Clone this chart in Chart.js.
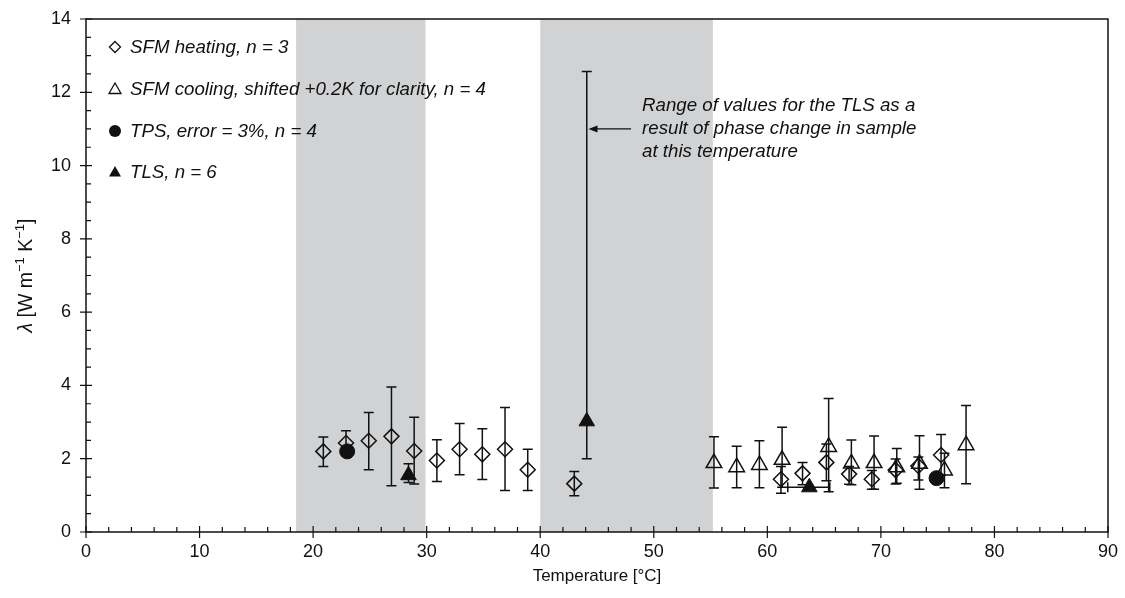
<!DOCTYPE html>
<html>
<head>
<meta charset="utf-8">
<script src="https://cdn.jsdelivr.net/npm/chart.js@4.4.1/dist/chart.umd.min.js"></script>
<style>
html, body { margin: 0; padding: 0; background: #fff; }
#wrap { width: 1125px; height: 598px; }
</style>
</head>
<body>
<div id="wrap"><canvas id="chart" width="1125" height="598"></canvas></div>
<script>
// SFM heating runs (diamonds)
const heatT  = [20.9, 22.9, 24.9, 26.9, 28.9, 30.9, 32.9, 34.9, 36.9, 38.9, 43.0, 61.2, 63.1, 65.2, 67.2, 69.2, 71.3, 73.3, 75.3];
const heatL  = [2.20, 2.43, 2.49, 2.61, 2.21, 1.95, 2.26, 2.12, 2.26, 1.70, 1.32, 1.44, 1.60, 1.90, 1.58, 1.44, 1.69, 1.80, 2.10];
const heatLo = [1.79, 2.10, 1.70, 1.26, 1.31, 1.38, 1.56, 1.43, 1.13, 1.13, 0.99, 1.06, 1.29, 1.40, 1.30, 1.17, 1.31, 1.42, 1.55];
const heatHi = [2.59, 2.76, 3.26, 3.96, 3.13, 2.52, 2.96, 2.82, 3.40, 2.26, 1.65, 1.79, 1.90, 2.40, 1.79, 1.68, 1.99, 2.05, 2.66];

// SFM cooling runs (open triangles), already shifted +0.2 K
const coolT  = [55.3, 57.3, 59.3, 61.3, 65.4, 67.4, 69.4, 71.4, 73.4, 75.6, 77.5];
const coolL  = [1.88, 1.77, 1.83, 1.97, 2.32, 1.87, 1.88, 1.77, 1.86, 1.68, 2.37];
const coolLo = [1.20, 1.21, 1.21, 1.22, 1.10, 1.29, 1.17, 1.33, 1.17, 1.21, 1.32];
const coolHi = [2.60, 2.34, 2.49, 2.86, 3.64, 2.51, 2.62, 2.28, 2.63, 2.15, 3.45];

// TPS (filled circles)
const tpsT = [23.0, 74.9];
const tpsL = [2.20, 1.47];

// TLS (filled triangles), vertical and horizontal ranges
const tlsT   = [28.4, 44.1, 63.7];
const tlsL   = [1.55, 3.02, 1.22];
const tlsLo  = [1.35, 2.00, null];
const tlsHi  = [1.86, 12.57, null];
const tlsTLo = [null, null, 61.8];
const tlsTHi = [null, null, 65.5];

// grey temperature bands
const bandFrom = [18.5, 40.0];
const bandTo   = [29.9, 55.2];

const legendItems = [
    'SFM heating, n = 3',
    'SFM cooling, shifted +0.2K for clarity, n = 4',
    'TPS, error = 3%, n = 4',
    'TLS, n = 6'
];
const noteLines = [
    'Range of values for the TLS as a',
    'result of phase change in sample',
    'at this temperature'
];
const arrowY = 11.0, arrowFrom = 48.0, arrowTo = 44.25;

const INK = '#111';
const FONT = '"Liberation Sans", Arial, sans-serif';

function pts(xs, ys) {
    return xs.map((x, i) => ({ x: x, y: ys[i] }));
}

function vbar(ctx, x, y1, y2, cap) {
    ctx.beginPath();
    ctx.moveTo(x, y1); ctx.lineTo(x, y2);
    ctx.moveTo(x - cap, y1); ctx.lineTo(x + cap, y1);
    ctx.moveTo(x - cap, y2); ctx.lineTo(x + cap, y2);
    ctx.stroke();
}

// y title pieces: text, italic, superscript
const yTitle = [
    ['λ', true, false], [' [W m', false, false], ['−1', false, true],
    [' K', false, false], ['−1', false, true], [']', false, false]
];

function drawYTitle(ctx, cx, cy) {
    const size = 19.5, supSize = 13;
    const fontOf = p => (p[1] ? 'italic ' : '') + (p[2] ? supSize : size) + 'px ' + FONT;
    let total = 0;
    const widths = yTitle.map(p => { ctx.font = fontOf(p); const w = ctx.measureText(p[0]).width; total += w; return w; });
    ctx.save();
    ctx.translate(cx, cy);
    ctx.rotate(-Math.PI / 2);
    ctx.textAlign = 'left';
    ctx.textBaseline = 'alphabetic';
    let px = -total / 2;
    yTitle.forEach((p, i) => {
        ctx.font = fontOf(p);
        ctx.fillText(p[0], px, p[2] ? -1 : 7);
        px += widths[i];
    });
    ctx.restore();
}

const extras = {
    id: 'extras',
    beforeDatasetsDraw(chart) {
        const { ctx, chartArea: a, scales: { x, y } } = chart;
        ctx.save();
        // shaded bands
        ctx.fillStyle = '#d1d2d4';
        bandFrom.forEach((f, i) => {
            const x1 = x.getPixelForValue(f), x2 = x.getPixelForValue(bandTo[i]);
            ctx.fillRect(x1, a.top, x2 - x1, a.bottom - a.top);
        });
        // error bars
        ctx.strokeStyle = INK;
        ctx.lineWidth = 1.5;
        const cap = 5;
        heatT.forEach((t, i) => vbar(ctx, x.getPixelForValue(t), y.getPixelForValue(heatLo[i]), y.getPixelForValue(heatHi[i]), cap));
        coolT.forEach((t, i) => vbar(ctx, x.getPixelForValue(t), y.getPixelForValue(coolLo[i]), y.getPixelForValue(coolHi[i]), cap));
        tlsT.forEach((t, i) => {
            const px = x.getPixelForValue(t), py = y.getPixelForValue(tlsL[i]);
            if (tlsLo[i] != null) vbar(ctx, px, y.getPixelForValue(tlsLo[i]), y.getPixelForValue(tlsHi[i]), cap);
            if (tlsTLo[i] != null) {
                const xa = x.getPixelForValue(tlsTLo[i]), xb = x.getPixelForValue(tlsTHi[i]);
                ctx.beginPath();
                ctx.moveTo(xa, py); ctx.lineTo(xb, py);
                ctx.moveTo(xa, py - cap); ctx.lineTo(xa, py + cap);
                ctx.moveTo(xb, py - cap); ctx.lineTo(xb, py + cap);
                ctx.stroke();
            }
        });
        ctx.restore();
    },
    afterDatasetsDraw(chart) {
        const { ctx, chartArea: a, scales: { x, y } } = chart;
        ctx.save();
        ctx.strokeStyle = INK;
        ctx.fillStyle = INK;

        // frame
        ctx.lineWidth = 1.5;
        ctx.strokeRect(a.left, a.top, a.right - a.left, a.bottom - a.top);

        // ticks
        ctx.lineWidth = 1.2;
        ctx.beginPath();
        for (let v = 0; v <= 90; v += 2) {
            const px = x.getPixelForValue(v);
            if (v % 10 === 0) { ctx.moveTo(px, a.bottom - 6); ctx.lineTo(px, a.bottom + 6); }
            else { ctx.moveTo(px, a.bottom - 5); ctx.lineTo(px, a.bottom); }
        }
        for (let v = 0; v <= 14; v += 0.5) {
            const py = y.getPixelForValue(v);
            if (v % 2 === 0) { ctx.moveTo(a.left - 6, py); ctx.lineTo(a.left + 6, py); }
            else { ctx.moveTo(a.left, py); ctx.lineTo(a.left + 5, py); }
        }
        ctx.stroke();

        // axis titles
        ctx.textBaseline = 'middle';
        ctx.textAlign = 'center';
        ctx.font = '17px ' + FONT;
        ctx.fillText('Temperature [°C]', (a.left + a.right) / 2, 576);
        drawYTitle(ctx, 25, (a.top + a.bottom) / 2);

        // legend
        const lx = 115, ly = [47, 89, 131, 172];
        ctx.lineWidth = 1.3;
        ctx.font = 'italic 18.7px ' + FONT;
        ctx.textAlign = 'left';
        ctx.textBaseline = 'middle';
        legendItems.forEach((txt, i) => {
            const cy = ly[i];
            ctx.beginPath();
            if (i === 0) {
                ctx.moveTo(lx - 5.5, cy); ctx.lineTo(lx, cy - 5.5); ctx.lineTo(lx + 5.5, cy); ctx.lineTo(lx, cy + 5.5); ctx.closePath();
                ctx.stroke();
            } else if (i === 1 || i === 3) {
                ctx.moveTo(lx, cy - 6); ctx.lineTo(lx + 6, cy + 4.5); ctx.lineTo(lx - 6, cy + 4.5); ctx.closePath();
                if (i === 1) ctx.stroke(); else ctx.fill();
            } else {
                ctx.arc(lx, cy, 6, 0, Math.PI * 2);
                ctx.fill();
            }
            ctx.fillText(txt, 130, cy + 1);
        });

        // annotation arrow and note
        const ay = y.getPixelForValue(arrowY);
        const ax1 = x.getPixelForValue(arrowFrom), ax2 = x.getPixelForValue(arrowTo);
        ctx.lineWidth = 1.3;
        ctx.beginPath();
        ctx.moveTo(ax1, ay); ctx.lineTo(ax2 + 6, ay);
        ctx.stroke();
        ctx.beginPath();
        ctx.moveTo(ax2, ay); ctx.lineTo(ax2 + 9, ay - 3.5); ctx.lineTo(ax2 + 9, ay + 3.5); ctx.closePath();
        ctx.fill();
        ctx.font = 'italic 18.7px ' + FONT;
        noteLines.forEach((t, i) => ctx.fillText(t, ax1 + 11, ay + (i - 1) * 23));

        ctx.restore();
    }
};

new Chart(document.getElementById('chart'), {
    type: 'scatter',
    data: {
        datasets: [
            {
                label: 'TLS', data: pts(tlsT, tlsL), order: 1,
                pointStyle: 'triangle', pointRadius: 9, pointBackgroundColor: INK,
                pointBorderColor: INK, pointBorderWidth: 1
            },
            {
                label: 'TPS', data: pts(tpsT, tpsL), order: 2,
                pointStyle: 'circle', pointRadius: 7.5, pointBackgroundColor: INK,
                pointBorderColor: INK, pointBorderWidth: 1
            },
            {
                label: 'SFM cooling', data: pts(coolT, coolL), order: 3,
                pointStyle: 'triangle', pointRadius: 9, pointBackgroundColor: 'rgba(0,0,0,0)',
                pointBorderColor: INK, pointBorderWidth: 1.5
            },
            {
                label: 'SFM heating', data: pts(heatT, heatL), order: 4,
                pointStyle: 'rectRot', pointRadius: 7.5, pointBackgroundColor: 'rgba(0,0,0,0)',
                pointBorderColor: INK, pointBorderWidth: 1.5
            }
        ]
    },
    options: {
        responsive: false,
        animation: false,
        events: [],
        layout: { padding: { top: 19, right: 17, left: 0, bottom: 0 } },
        plugins: { legend: { display: false }, tooltip: { enabled: false } },
        scales: {
            x: {
                type: 'linear', min: 0, max: 90,
                grid: { display: false, drawTicks: false },
                border: { display: false },
                ticks: { stepSize: 10, padding: 9, color: INK, font: { family: FONT, size: 18 }, maxRotation: 0 },
                afterFit: s => { s.height = 66; s.paddingLeft = 0; s.paddingRight = 0; }
            },
            y: {
                type: 'linear', min: 0, max: 14,
                grid: { display: false, drawTicks: false },
                border: { display: false },
                ticks: { stepSize: 2, padding: 15, color: INK, font: { family: FONT, size: 18 } },
                afterFit: s => { s.width = 86; s.paddingTop = 0; s.paddingBottom = 0; }
            }
        }
    },
    plugins: [extras]
});
</script>
</body>
</html>
